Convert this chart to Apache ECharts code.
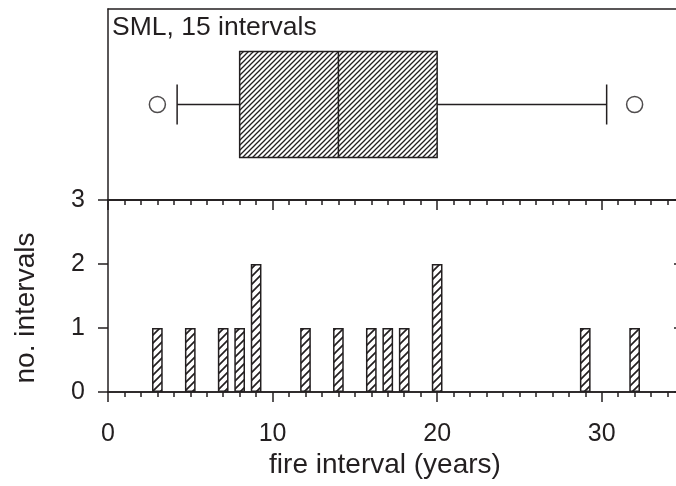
<!DOCTYPE html>
<html>
<head>
<meta charset="utf-8">
<script src="https://cdn.jsdelivr.net/npm/echarts@6/dist/echarts.min.js"></script>
<style>
  html, body { margin: 0; padding: 0; background: #fff; }
  #chart { width: 676px; height: 486px; }
</style>
</head>
<body>
<div id="chart"></div>
<script>
// fire intervals at SML
var siteLabel = 'SML, 15 intervals';
var histYears = [3, 5, 7, 8, 9, 12, 14, 16, 17, 18, 20, 29, 32];
var histCounts = [1, 1, 1, 1, 2, 1, 1, 1, 1, 1, 2, 1, 1];
// low whisker, q1, median, q3, high whisker
var boxStats = [4.2, 8, 14, 20, 30.3];
var outliers = [3, 32];
var xTicks = [0, 10, 20, 30];
var yTicks = [0, 1, 2, 3];

var ink = '#231f20';
var font = '"Liberation Sans", Arial, sans-serif';

function hatch(size, width) {
  var c = document.createElement('canvas');
  c.width = size;
  c.height = size;
  var g = c.getContext('2d');
  g.fillStyle = '#fff';
  g.fillRect(0, 0, size, size);
  g.strokeStyle = ink;
  g.lineWidth = width;
  g.beginPath();
  g.moveTo(0, size); g.lineTo(size, 0);
  g.moveTo(-size / 2, size / 2); g.lineTo(size / 2, -size / 2);
  g.moveTo(size / 2, size * 1.5); g.lineTo(size * 1.5, size / 2);
  g.stroke();
  return { image: c, repeat: 'repeat' };
}

var boxHatch = hatch(5, 1.3);
var barHatch = hatch(8, 1.7);

var axisLine = { show: true, onZero: false, lineStyle: { color: ink, width: 1.5 } };

function renderBox(params, api) {
  var cat = api.value(0);
  var lo = api.coord([api.value(1), cat]);
  var q1 = api.coord([api.value(2), cat]);
  var md = api.coord([api.value(3), cat]);
  var q3 = api.coord([api.value(4), cat]);
  var hi = api.coord([api.value(5), cat]);
  var cy = lo[1];
  var boxH = 106, capH = 40;
  var st = { stroke: ink, lineWidth: 1.5 };
  return {
    type: 'group',
    children: [
      { type: 'line', shape: { x1: lo[0], y1: cy, x2: q1[0], y2: cy }, style: st },
      { type: 'line', shape: { x1: q3[0], y1: cy, x2: hi[0], y2: cy }, style: st },
      { type: 'line', shape: { x1: lo[0], y1: cy - capH / 2, x2: lo[0], y2: cy + capH / 2 }, style: st },
      { type: 'line', shape: { x1: hi[0], y1: cy - capH / 2, x2: hi[0], y2: cy + capH / 2 }, style: st },
      { type: 'rect', shape: { x: q1[0], y: cy - boxH / 2, width: q3[0] - q1[0], height: boxH },
        style: { fill: boxHatch, stroke: ink, lineWidth: 1.5 } },
      { type: 'line', shape: { x1: md[0], y1: cy - boxH / 2, x2: md[0], y2: cy + boxH / 2 }, style: st }
    ]
  };
}

var xMin = 0, xMax = 35;

var option = {
  animation: false,
  backgroundColor: '#fff',
  textStyle: { fontFamily: font, color: ink },
  grid: [
    { left: 108, width: 576, top: 9, height: 191, outerBoundsMode: 'none', containLabel: false },
    { left: 108, width: 576, top: 200, height: 192, outerBoundsMode: 'none', containLabel: false }
  ],
  xAxis: [
    { type: 'value', gridIndex: 0, position: 'bottom', min: xMin, max: xMax,
      axisLine: axisLine, axisTick: { show: false }, axisLabel: { show: false }, splitLine: { show: false } },
    { type: 'value', gridIndex: 0, position: 'top', min: xMin, max: xMax,
      axisLine: axisLine, axisTick: { show: false }, axisLabel: { show: false }, splitLine: { show: false } },
    { type: 'value', gridIndex: 1, position: 'bottom', min: xMin, max: xMax, interval: 10,
      axisLine: axisLine,
      axisTick: { length: 10, lineStyle: { color: ink, width: 1.5 } },
      axisLabel: { margin: 30, fontSize: 25, color: ink, fontFamily: font, showMaxLabel: false,
        formatter: function (v) { return xTicks.indexOf(v) >= 0 ? String(v) : ''; } },
      splitLine: { show: false } },
    { type: 'value', gridIndex: 1, position: 'bottom', min: xMin, max: xMax, interval: 1,
      axisLine: axisLine,
      axisTick: { length: 5, lineStyle: { color: ink, width: 1.5 } },
      axisLabel: { show: false }, splitLine: { show: false } },
    { type: 'value', gridIndex: 1, position: 'top', min: xMin, max: xMax, interval: 10,
      axisLine: axisLine,
      axisTick: { inside: true, length: 10, lineStyle: { color: ink, width: 1.5 } },
      axisLabel: { show: false }, splitLine: { show: false } },
    { type: 'value', gridIndex: 1, position: 'top', min: xMin, max: xMax, interval: 1,
      axisLine: axisLine,
      axisTick: { inside: true, length: 5, lineStyle: { color: ink, width: 1.5 } },
      axisLabel: { show: false }, splitLine: { show: false } }
  ],
  yAxis: [
    { type: 'category', gridIndex: 0, data: ['SML'], position: 'left',
      axisLine: axisLine,
      axisTick: { alignWithLabel: true, length: 3, lineStyle: { color: ink, width: 1.5 } },
      axisLabel: { show: false }, splitLine: { show: false } },
    { type: 'value', gridIndex: 1, position: 'left', min: yTicks[0], max: yTicks[yTicks.length - 1], interval: 1,
      axisLine: axisLine,
      axisTick: { length: 10, lineStyle: { color: ink, width: 1.5 } },
      axisLabel: { margin: 23, fontSize: 25, color: ink, fontFamily: font },
      splitLine: { show: false } },
    { type: 'value', gridIndex: 1, position: 'right', min: yTicks[0], max: yTicks[yTicks.length - 1], interval: 1,
      axisLine: axisLine,
      axisTick: { inside: true, length: 10, lineStyle: { color: ink, width: 1.5 } },
      axisLabel: { show: false }, splitLine: { show: false } }
  ],
  series: [
    {
      type: 'custom',
      xAxisIndex: 0,
      yAxisIndex: 0,
      renderItem: renderBox,
      encode: { x: [1, 2, 3, 4, 5], y: 0 },
      data: [[0].concat(boxStats)],
      silent: true
    },
    {
      type: 'scatter',
      xAxisIndex: 0,
      yAxisIndex: 0,
      symbol: 'circle',
      symbolSize: 16,
      itemStyle: { color: '#fff', borderColor: ink, borderWidth: 1.5 },
      data: outliers.map(function (v) { return [v, 0]; })
    },
    {
      type: 'bar',
      xAxisIndex: 2,
      yAxisIndex: 1,
      barWidth: 10.7,
      itemStyle: { color: barHatch, borderColor: ink, borderWidth: 1.5 },
      data: histYears.map(function (x, i) { return [x, histCounts[i]]; })
    }
  ],
  graphic: [
    { type: 'text', x: 112, y: 28,
      style: { text: siteLabel, font: '26.5px ' + font, fill: ink, textAlign: 'left', textVerticalAlign: 'middle' } },
    { type: 'text', x: 385, y: 465,
      style: { text: 'fire interval (years)', font: '28px ' + font, fill: ink, textAlign: 'center', textVerticalAlign: 'middle' } },
    { type: 'text', x: 26, y: 308, rotation: Math.PI / 2,
      style: { text: 'no. intervals', font: '28px ' + font, fill: ink, textAlign: 'center', textVerticalAlign: 'middle' } }
  ]
};

echarts.init(document.getElementById('chart')).setOption(option);
</script>
</body>
</html>
